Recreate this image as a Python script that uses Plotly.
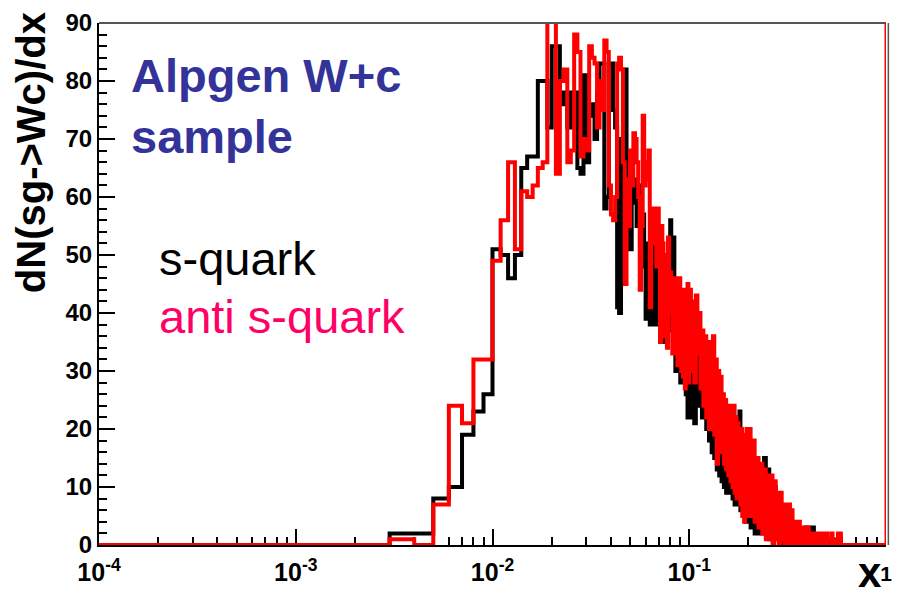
import numpy as np
import plotly.graph_objects as go

# ---------------- data (dN/dx per bin) ----------------
# fine bins: width 0.001 starting at x = 0.003
fine_start, fine_width = 0.003, 0.001
black_fine = [2, 2, 8, 10, 19, 23, 26, 51, 50, 46,
              50, 65, 67, 67, 80, 80, 72, 86, 86, 76,
              78, 72, 78, 78, 65, 64, 81, 66, 74, 76,
              70, 78, 83, 83, 58, 60, 83, 83, 75, 72,
              41, 40, 70, 62, 82, 66, 63, 51, 60, 63,
              59, 55, 62, 58, 51, 57, 48, 39, 52, 45,
              38, 50, 55, 39, 38, 47, 52, 44, 40, 48,
              43, 46, 35, 44, 40, 42, 37, 56, 45, 41,
              53, 38, 30, 42, 35, 31, 40, 28, 36, 33,
              28, 38, 30, 26, 33, 22, 36]
red_fine = [1, 0, 7, 24, 21, 32, 32, 49, 56, 66,
            51, 61, 60, 62, 65, 66, 92, 92, 64, 80,
            82, 66, 68, 88, 85, 67, 70, 68, 86, 84,
            83, 72, 80, 75, 87, 85, 62, 57, 56, 60,
            83, 84, 82, 66, 45, 63, 55, 68, 62, 71,
            70, 66, 60, 44, 55, 74, 62, 66, 63, 68,
            41, 55, 58, 52, 57, 48, 58, 50, 35, 55,
            52, 36, 50, 46, 34, 53, 44, 47, 40, 33,
            46, 42, 38, 46, 31, 44, 46, 35, 30, 43,
            29, 44, 27, 40, 32, 45, 28]

# medium bins: width 0.002 starting at x = 0.100
mid_start, mid_width = 0.100, 0.002
black_mid = [40, 22, 35, 21, 30, 36, 24, 32, 22, 30,
             32, 20, 28, 18, 27, 16, 26, 15, 24, 13,
             23, 12, 22, 11, 21, 10, 20, 9, 19, 10,
             18, 9, 17, 8, 16, 7, 17, 8, 22, 7,
             23, 6, 18, 6, 14, 5, 13, 4, 12, 4]
red_mid = [44, 30, 42, 28, 43, 33, 40, 27, 37, 24,
           36, 22, 35, 20, 34, 21, 36, 19, 32, 14,
           30, 18, 29, 16, 26, 14, 25, 13, 24, 12,
           24, 11, 23, 10, 24, 9, 22, 8, 21, 9,
           20, 7, 20, 5, 19, 4, 17, 6, 20, 5]

# coarse bins: width 0.005 starting at x = 0.200
tail_start, tail_width = 0.200, 0.005
black_tail = [16, 3, 14, 2, 13, 2, 12, 2, 15, 2,
              13, 1, 10, 1, 10, 1, 8, 1, 7, 0,
              6, 1, 6, 0, 5, 0, 4, 0, 3, 0,
              3, 0, 2, 0, 2, 0, 2, 0, 3, 0,
              2, 1, 3, 3, 2, 3, 0, 0, 0, 0,
              0, 0, 0, 0, 0, 0, 0, 0, 0, 0,
              0, 0, 0, 0, 0, 0, 0, 0, 0, 0,
              0, 0, 0, 0, 0, 0, 0, 0, 0, 0]
red_tail = [20, 5, 18, 4, 15, 3, 14, 2, 13, 1,
            12, 1, 12, 0, 11, 1, 9, 0, 9, 1,
            7, 0, 7, 1, 7, 0, 6, 0, 4, 1,
            4, 0, 4, 0, 3, 0, 3, 0, 2, 0,
            3, 0, 2, 1, 2, 0, 2, 0, 1, 0,
            2, 0, 1, 0, 2, 0, 2, 0, 1, 0,
            2, 0, 1, 0, 1, 0, 2, 0, 1, 0,
            1, 0, 1, 0, 2, 2, 0, 2, 0, 0]

x_min, x_max = 1e-4, 1.0
y_max = 90
y_ticks = list(range(0, 91, 10))
x_tick_vals = [1e-4, 1e-3, 1e-2, 1e-1, 1.0]
x_tick_text = ["10<sup>-4</sup>", "10<sup>-3</sup>", "10<sup>-2</sup>",
               "10<sup>-1</sup>", "<span style='font-size:21px'>1</span>"]
y_title = "dN(sg->Wc)/dx"
x_title = "x"
sample_label = "Alpgen W+c<br>sample"
black_label = "s-quark"
red_label = "anti s-quark"


def step_xy(parts):
    xs, ys = [x_min], [0]
    end = None
    for start, width, vals in parts:
        for i, v in enumerate(vals):
            xs.append(round(start + i * width, 6))
            ys.append(v)
        end = round(start + len(vals) * width, 6)
    xs += [end, x_max]
    ys += [0, 0]
    return xs, ys


bx, by = step_xy([(fine_start, fine_width, black_fine),
                  (mid_start, mid_width, black_mid),
                  (tail_start, tail_width, black_tail)])
rx, ry = step_xy([(fine_start, fine_width, red_fine),
                  (mid_start, mid_width, red_mid),
                  (tail_start, tail_width, red_tail)])

FONT = "Liberation Sans, Arial, sans-serif"

fig = go.Figure()
fig.add_trace(go.Scatter(x=bx, y=by, mode="lines", line=dict(color="black", width=4, shape="hv"),
                         name=black_label, showlegend=False, hoverinfo="skip"))
fig.add_trace(go.Scatter(x=rx, y=ry, mode="lines", line=dict(color="#ff0000", width=4, shape="hv"),
                         name=red_label, showlegend=False, hoverinfo="skip"))

minor_x = [m * 10.0 ** e for e in range(-4, 0) for m in range(2, 10)]

L, R, T, B = 99, 9, 17, 49
W, H = 901, 595
pw, ph = W - L - R, H - T - B


def px(xp):
    return (xp - L) / pw


def py(yp):
    return (H - B - yp) / ph


fig.update_layout(
    width=W, height=H,
    margin=dict(l=L, r=R, t=T, b=B),
    paper_bgcolor="white", plot_bgcolor="white",
    font=dict(family=FONT, color="black"),
    xaxis=dict(type="log", range=[np.log10(x_min), np.log10(x_max)],
               tickmode="array", tickvals=x_tick_vals, ticktext=x_tick_text,
               ticks="inside", ticklen=16, tickwidth=1.5, tickcolor="black",
               minor=dict(tickvals=minor_x, ticks="inside", ticklen=8, tickwidth=1.5, tickcolor="black"),
               showline=True, linecolor="black", linewidth=2,
               showgrid=False, zeroline=False, layer="below traces",
               ticklabelstandoff=4,
               tickfont=dict(family=FONT, size=25, color="black", weight="bold")),
    yaxis=dict(range=[0, y_max], tickmode="array", tickvals=y_ticks,
               ticks="inside", ticklen=16, tickwidth=1.5, tickcolor="black",
               minor=dict(dtick=2, ticks="inside", ticklen=8, tickwidth=1.5, tickcolor="black"),
               showline=True, linecolor="black", linewidth=2,
               showgrid=False, zeroline=False, layer="below traces",
               tickfont=dict(family=FONT, size=24, color="black", weight="bold")),
    shapes=[
        dict(type="line", xref="paper", yref="paper", x0=0, x1=1, y0=1, y1=1,
             line=dict(color="#555555", width=2)),
        dict(type="line", xref="paper", yref="paper", x0=1.003, x1=1.003, y0=0, y1=1,
             line=dict(color="#555555", width=1.5)),
        dict(type="line", xref="x", yref="paper", x0=x_max, x1=x_max, y0=0, y1=1,
             line=dict(color="#ff0000", width=3)),
    ],
    annotations=[
        dict(text=y_title, xref="paper", yref="paper", x=px(30), y=py(4),
             xanchor="center", yanchor="top", textangle=-90, showarrow=False,
             font=dict(family=FONT, size=40, color="black", weight="bold")),
        dict(text=x_title, xref="paper", yref="paper", x=px(890), y=py(600),
             xanchor="right", yanchor="bottom", showarrow=False,
             font=dict(family=FONT, size=42, color="black", weight="bold")),
        dict(text=sample_label, xref="paper", yref="paper", x=px(129), y=py(101),
             xanchor="left", yanchor="middle", align="left", showarrow=False,
             font=dict(family=FONT, size=47, color="#333399", weight="bold")),
        dict(text=black_label, xref="paper", yref="paper", x=px(157), y=py(256),
             xanchor="left", yanchor="middle", showarrow=False,
             font=dict(family=FONT, size=47, color="black")),
        dict(text=red_label, xref="paper", yref="paper", x=px(157), y=py(314),
             xanchor="left", yanchor="middle", showarrow=False,
             font=dict(family=FONT, size=47, color="#ff0066")),
    ],
)

fig.write_html("out.html")
